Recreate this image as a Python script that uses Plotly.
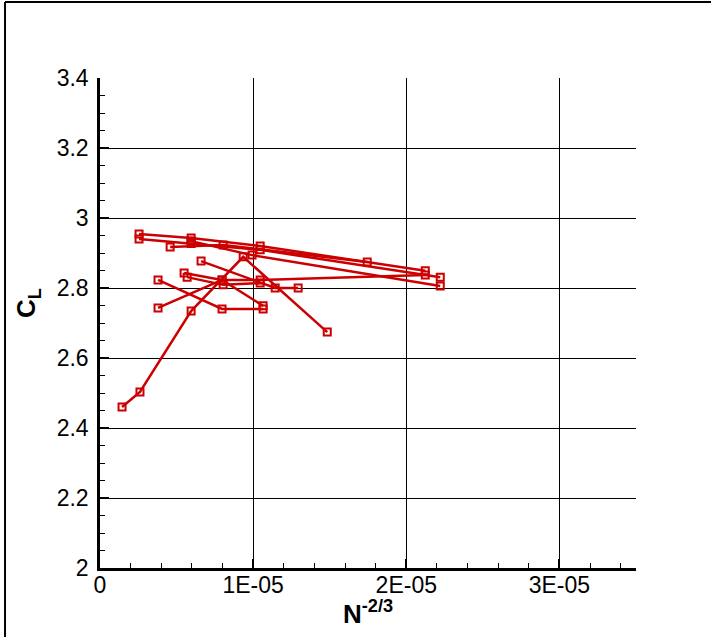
import plotly.graph_objects as go

# N^-2/3 values (units of 1e-6) and C_L values for each grid-convergence series
s1_x = [2.55, 5.95, 10.46, 21.24]
s1_y = [2.954, 2.943, 2.920, 2.849]
s2_x = [2.55, 5.95, 10.46, 22.22]
s2_y = [2.940, 2.927, 2.909, 2.831]
s3_x = [4.58, 8.04, 17.45]
s3_y = [2.917, 2.923, 2.874]
s4_x = [5.95, 9.93, 22.22]
s4_y = [2.934, 2.894, 2.806]
s5_x = [3.79, 7.97, 10.65]
s5_y = [2.823, 2.740, 2.740]
s6_x = [3.79, 7.97, 10.65]
s6_y = [2.743, 2.823, 2.749]
s7_x = [5.49, 7.97, 10.46, 21.24]
s7_y = [2.843, 2.823, 2.823, 2.837]
s8_x = [5.69, 8.04, 10.46]
s8_y = [2.831, 2.809, 2.814]
s9_x = [6.60, 11.44, 12.94]
s9_y = [2.877, 2.800, 2.800]
s10_x = [1.44, 2.61, 5.95, 9.35, 14.84]
s10_y = [2.460, 2.503, 2.734, 2.889, 2.674]

series = [(s1_x, s1_y), (s2_x, s2_y), (s3_x, s3_y), (s4_x, s4_y), (s5_x, s5_y),
          (s6_x, s6_y), (s7_x, s7_y), (s8_x, s8_y), (s9_x, s9_y), (s10_x, s10_y)]

x_tickvals = [0, 1e-5, 2e-5, 3e-5]
x_ticktext = ["0", "1E-05", "2E-05", "3E-05"]
y_tickvals = [2, 2.2, 2.4, 2.6, 2.8, 3, 3.2, 3.4]
y_ticktext = ["2", "2.2", "2.4", "2.6", "2.8", "3", "3.2", "3.4"]

RED = "rgb(204,0,0)"
FONT = "Liberation Sans, Arial, sans-serif"

fig = go.Figure()
for xs, ys in series:
    fig.add_trace(go.Scatter(
        x=[v * 1e-6 for v in xs], y=ys, mode="lines+markers",
        line=dict(color=RED, width=2.5),
        marker=dict(symbol="square-open", size=7, color=RED, line=dict(width=2, color=RED)),
        showlegend=False, hoverinfo="skip"))

fig.update_layout(
    width=711, height=637,
    margin=dict(l=100, r=75, t=78, b=69),
    paper_bgcolor="white", plot_bgcolor="white",
    font=dict(family=FONT, size=23, color="black"),
    xaxis=dict(range=[0, 3.5e-5], tickvals=x_tickvals, ticktext=x_ticktext,
               showgrid=True, gridcolor="black", gridwidth=1,
               showline=True, linecolor="black", linewidth=2.5,
               ticks="inside", ticklen=9, tickwidth=2, tickcolor="black",
               minor=dict(ticks="inside", dtick=2e-6, ticklen=5, tickwidth=1, tickcolor="black", showgrid=False),
               zeroline=False, tickfont=dict(size=23), ticklabelstandoff=-5),
    yaxis=dict(range=[2, 3.4], tickvals=y_tickvals, ticktext=y_ticktext,
               showgrid=True, gridcolor="black", gridwidth=1,
               showline=True, linecolor="black", linewidth=2.5,
               ticks="inside", ticklen=9, tickwidth=2, tickcolor="black",
               minor=dict(ticks="inside", dtick=0.05, ticklen=5, tickwidth=1, tickcolor="black", showgrid=False),
               zeroline=False, tickfont=dict(size=23), ticklabelstandoff=4),
    annotations=[
        dict(text="<b>C<sub>L</sub></b>", xref="paper", yref="paper",
             x=-0.135, y=0.54, showarrow=False, textangle=-90,
             font=dict(size=26, family=FONT), xanchor="center", yanchor="middle"),
        dict(text="<b>N<sup>-2/3</sup></b>", xref="paper", yref="paper",
             x=0.5, y=-0.091, showarrow=False,
             font=dict(size=26, family=FONT), xanchor="center", yanchor="middle"),
    ],
    shapes=[
        dict(type="line", xref="paper", yref="paper", x0=-0.1772, x1=-0.1772, y0=1.1551, y1=-0.15,
             line=dict(color="black", width=2)),
        dict(type="line", xref="paper", yref="paper", x0=-0.1772, x1=1.15, y0=1.1551, y1=1.1551,
             line=dict(color="black", width=2)),
    ],
)

fig.write_html("out.html", config={"displayModeBar": False},
               post_script="document.body.style.margin='0';document.body.style.padding='0';document.body.style.overflow='hidden';")
